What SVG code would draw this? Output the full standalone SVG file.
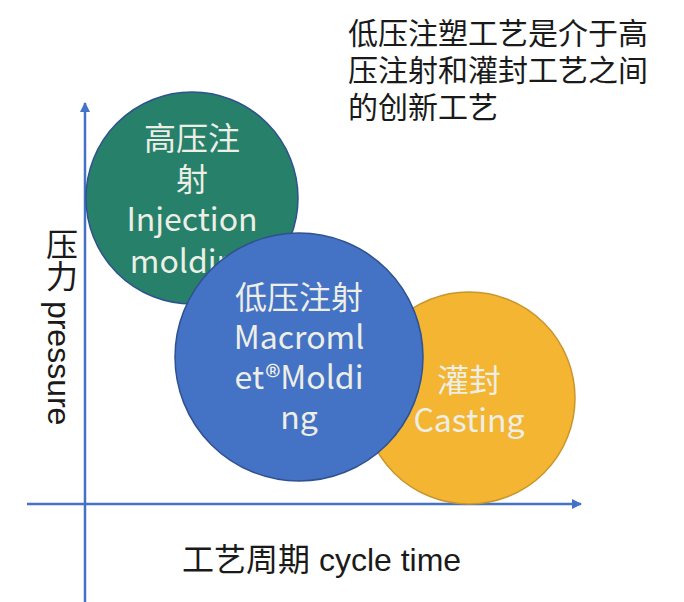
<svg xmlns="http://www.w3.org/2000/svg" width="684" height="602" viewBox="0 0 684 602">
<style>
.axis{stroke:#4472C4;stroke-width:2.5;fill:none}
.lbl{font-family:"Liberation Sans","Noto Sans CJK SC",sans-serif;fill:#1a1a1a}
.ctext{font-family:"Noto Sans CJK SC","Noto Sans",sans-serif;font-size:32px;fill:#EDEFE6;text-anchor:middle}
</style>
<defs>
<marker id="arr" markerWidth="10" markerHeight="10" refX="9" refY="5" orient="auto" markerUnits="userSpaceOnUse">
<path d="M0,0 L10,5 L0,10 Z" fill="#4472C4"/>
</marker>
</defs>
<rect width="684" height="602" fill="#ffffff"/>
<g id="connectors">
<line class="axis" x1="85" y1="602" x2="85" y2="103" marker-end="url(#arr)"/>
<line class="axis" x1="27" y1="504" x2="581" y2="504" marker-end="url(#arr)"/>
</g>
<g id="node-casting">
<circle cx="469" cy="398" r="106" fill="#F4B532" stroke="#C9962E" stroke-width="1.5"/>
<text class="ctext"><tspan x="469" y="392">灌封</tspan><tspan x="469" y="432">Casting</tspan></text>
</g>
<g id="node-injection">
<circle cx="192" cy="198" r="106" fill="#27806A" stroke="#2F528F" stroke-width="1.5"/>
<text class="ctext"><tspan x="192" y="150">高压注</tspan><tspan x="192" y="191">射</tspan><tspan x="192" y="231">Injection</tspan><tspan x="192" y="273">molding</tspan></text>
</g>
<g id="node-lowpressure">
<circle cx="299" cy="357" r="124" fill="#4472C4" stroke="#2F528F" stroke-width="1.5"/>
<text class="ctext"><tspan x="299" y="309">低压注射</tspan><tspan x="299" y="349">Macroml</tspan><tspan x="299" y="389">et®Moldi</tspan><tspan x="299" y="429">ng</tspan></text>
</g>
<g id="labels">
<text class="lbl" font-size="30"><tspan x="348" y="44">低压注塑工艺是介于高</tspan><tspan x="348" y="81">压注射和灌封工艺之间</tspan><tspan x="348" y="118">的创新工艺</tspan></text>
<text class="lbl" font-size="32" x="182" y="571">工艺周期 cycle time</text>
<text class="lbl" font-size="32" x="59" y="228" style="writing-mode:vertical-rl">压力 pressure</text>
</g>
</svg>
